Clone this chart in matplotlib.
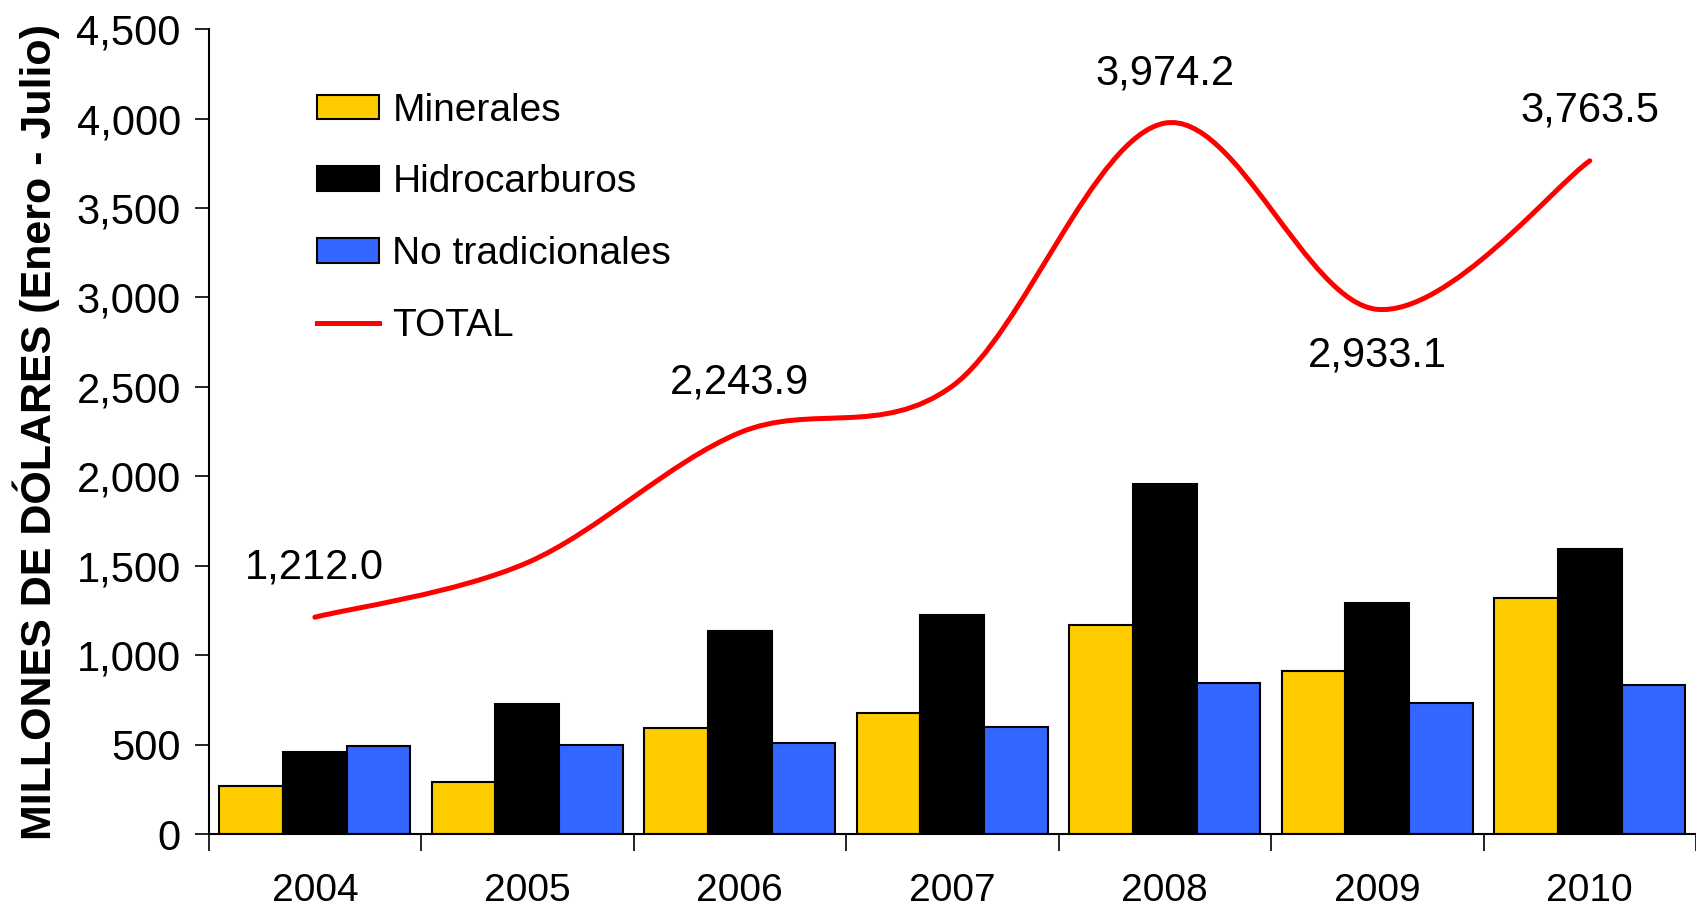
import numpy as np
import matplotlib
matplotlib.use('Agg')
import matplotlib.pyplot as plt
from matplotlib.path import Path
from matplotlib.patches import PathPatch
from matplotlib.lines import Line2D

# Data (millones de dolares, enero - julio)
years = ['2004', '2005', '2006', '2007', '2008', '2009', '2010']
minerales = [267, 291, 591, 678, 1169, 913, 1322]
hidrocarburos = [459, 726, 1135, 1226, 1957, 1293, 1591]
no_tradicionales = [491, 500, 509, 600, 844, 735, 833]
total = [1212.0, 1517.0, 2243.9, 2504.0, 3974.2, 2933.1, 3763.5]
total_labels = {0: '1,212.0', 2: '2,243.9', 4: '3,974.2', 5: '2,933.1', 6: '3,763.5'}

plt.rcParams['font.family'] = ['Liberation Sans', 'DejaVu Sans']

fig = plt.figure(figsize=(16.96, 9.09), dpi=100)
ax = fig.add_axes([0.123, 0.0825, 0.877, 0.8855])

x = np.arange(len(years))
w = 0.3
ax.bar(x - w, minerales, w, color='#FFCC00', edgecolor='black', linewidth=1.5, label='Minerales')
ax.bar(x, hidrocarburos, w, color='black', edgecolor='black', linewidth=1.5, label='Hidrocarburos')
ax.bar(x + w, no_tradicionales, w, color='#3366FF', edgecolor='black', linewidth=1.5, label='No tradicionales')

# smoothed total line (Catmull-Rom style bezier through the points)
pts = np.column_stack([x, total]).astype(float)
ext = np.vstack([pts[0], pts, pts[-1]])
verts = [tuple(pts[0])]
codes = [Path.MOVETO]
for i in range(len(pts) - 1):
    p0, p1, p2, p3 = ext[i], ext[i + 1], ext[i + 2], ext[i + 3]
    c1 = p1 + (p2 - p0) / 6.0
    c2 = p2 - (p3 - p1) / 6.0
    verts += [tuple(c1), tuple(c2), tuple(p2)]
    codes += [Path.CURVE4] * 3
ax.add_patch(PathPatch(Path(verts, codes), facecolor='none', edgecolor='#FF0000',
                       linewidth=3.6, capstyle='round', zorder=4))

for i, txt in total_labels.items():
    dy = -33 if i == 5 else 36
    ax.annotate(txt, (x[i], total[i]), xytext=(0, dy), textcoords='offset points',
                ha='center', va='center', fontsize=30)

ax.set_xlim(-0.5, 6.5)
ax.set_ylim(0, 4500)
ax.set_yticks(np.arange(0, 4501, 500))
ax.set_yticklabels([f'{v:,}' for v in range(0, 4501, 500)], fontsize=30)
ax.tick_params(axis='y', direction='out', length=10, width=1.2, pad=10)

ax.set_xticks(np.arange(-0.5, 7, 1.0))
ax.set_xticklabels([])
ax.set_xticks(x, minor=True)
ax.set_xticklabels(years, minor=True, fontsize=28)
ax.tick_params(axis='x', which='major', direction='out', length=12, width=1.2)
ax.tick_params(axis='x', which='minor', length=0, pad=28)

for s in ['top', 'right']:
    ax.spines[s].set_visible(False)
for s in ['left', 'bottom']:
    ax.spines[s].set_linewidth(1.5)

ax.set_ylabel('MILLONES DE DÓLARES (Enero - Julio)', fontsize=31, fontweight='bold', labelpad=12)

handles, labels = ax.get_legend_handles_labels()
handles.append(Line2D([0], [0], color='#FF0000', linewidth=3.6))
labels.append('TOTAL')
ax.legend(handles, labels, loc='upper left', bbox_to_anchor=(0.0726, 0.921), frameon=False,
          borderpad=0, borderaxespad=0, fontsize=28, handlelength=1.6, handleheight=0.6,
          labelspacing=0.92, handletextpad=0.35)

fig.savefig('out.png', dpi=100)
